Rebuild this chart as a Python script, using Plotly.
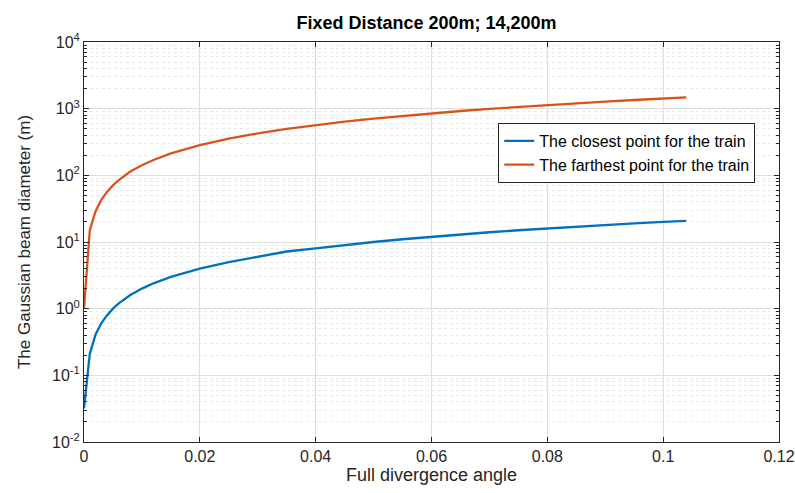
import plotly.graph_objects as go

# Data
angle = [0, 0.001, 0.002, 0.003, 0.004, 0.005, 0.006, 0.008, 0.01, 0.012, 0.015,
         0.02, 0.025, 0.03, 0.035, 0.04, 0.045, 0.05, 0.055, 0.06, 0.065,
         0.07, 0.075, 0.08, 0.085, 0.09, 0.095, 0.1, 0.104]
closest = [0.032, 0.21, 0.41, 0.61, 0.8, 1.0, 1.2, 1.6, 2.0, 2.4, 3.0,
           4.0, 5.0, 6.0, 7.2, 8.0, 9.0, 10.0, 11.0, 12.0, 13.0,
           14.0, 15.0, 16.0, 17.0, 18.0, 19.0, 20.0, 20.8]
farthest = [1.0, 15, 29, 43, 57, 71, 85, 114, 142, 170, 213,
            284, 355, 426, 497, 568, 640, 710, 780, 852, 923,
            994, 1065, 1136, 1207, 1278, 1350, 1420, 1477]

xticks = [0, 0.02, 0.04, 0.06, 0.08, 0.1, 0.12]
xtick_labels = ["0", "0.02", "0.04", "0.06", "0.08", "0.1", "0.12"]
ytick_exps = [-2, -1, 0, 1, 2, 3, 4]

FONT = "Liberation Sans, Arial, Helvetica, sans-serif"
AX = "#262626"
GRID = "#dedede"
MINOR = "#e8e8e8"

L, R, T, B = 84, 16, 42, 51
W, H = 795, 493

fig = go.Figure()
fig.add_trace(go.Scatter(x=angle, y=closest, mode="lines",
                         name="The closest point for the train",
                         line=dict(color="#0072BD", width=2.3)))
fig.add_trace(go.Scatter(x=angle, y=farthest, mode="lines",
                         name="The farthest point for the train",
                         line=dict(color="#D95319", width=2.3)))

fig.update_layout(
    width=W, height=H,
    margin=dict(l=L, r=R, t=T, b=B),
    paper_bgcolor="white", plot_bgcolor="white",
    font=dict(family=FONT, color=AX, size=16),
    title=dict(text="<b>Fixed Distance 200m; 14,200m</b>", x=426.5 / W,
               xanchor="center", xref="container", y=1 - 23 / H, yanchor="middle",
               font=dict(size=18, color="black", family=FONT)),
    legend=dict(x=0.596, y=0.7975, xanchor="left", yanchor="top",
                bgcolor="white", bordercolor="#262626", borderwidth=1,
                font=dict(size=16, color="black", family=FONT),
                tracegroupgap=0),
    showlegend=True,
)

fig.update_xaxes(
    range=[0, 0.12], tickvals=xticks, ticktext=xtick_labels,
    showgrid=True, gridcolor=GRID, gridwidth=1,
    ticks="inside", ticklen=5, tickcolor=AX,
    showline=True, linecolor=AX, linewidth=1, mirror="ticks",
    zeroline=False, automargin=False,
    tickfont=dict(size=16, color=AX),
    title=dict(text="Full divergence angle", font=dict(size=18, color=AX), standoff=4),
)

fig.update_yaxes(
    type="log", range=[-2, 4],
    tickvals=[10 ** e for e in ytick_exps],
    ticktext=["10<sup>%d</sup>" % e for e in ytick_exps],
    showgrid=True, gridcolor=GRID, gridwidth=1,
    ticks="inside", ticklen=5, tickcolor=AX,
    showline=True, linecolor=AX, linewidth=1, mirror="ticks",
    zeroline=False, automargin=False,
    tickfont=dict(size=16, color=AX),
    minor=dict(dtick="D1", showgrid=True, gridcolor=MINOR, griddash="dot",
               ticks="inside", ticklen=3, tickcolor=AX),
    title=dict(text="The Gaussian beam diameter (m)", font=dict(size=17, color=AX), standoff=17),
)

fig.write_html("out.html",
               config={"displayModeBar": False},
               post_script="document.body.style.margin='0';document.body.style.overflow='hidden';")
